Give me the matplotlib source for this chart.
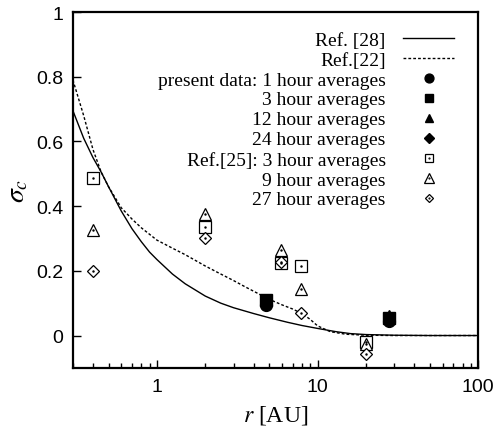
import numpy as np
import matplotlib
matplotlib.use('Agg')
import matplotlib.pyplot as plt
from matplotlib.legend_handler import HandlerTuple

# model curves
r_ref28 = [0.3, 0.35, 0.4, 0.45, 0.5, 0.6, 0.7, 0.8, 0.9, 1.0, 1.25, 1.5, 2, 2.5, 3, 4, 5,
           6.5, 8, 10, 13, 16, 20, 30, 50, 100]
sig_ref28 = [0.695, 0.61, 0.55, 0.505, 0.46, 0.385, 0.33, 0.29, 0.258, 0.235, 0.19, 0.16,
             0.122, 0.1, 0.086, 0.068, 0.055, 0.041, 0.031, 0.022, 0.012, 0.006, 0.003,
             0.001, 0, 0]

r_ref22 = [0.3, 0.35, 0.4, 0.45, 0.5, 0.6, 0.7, 0.8, 1.0, 1.25, 1.5, 2, 2.5, 3, 3.5, 4, 5,
           6, 7, 8, 9, 10, 12, 15, 20, 30, 100]
sig_ref22 = [0.79, 0.68, 0.575, 0.505, 0.46, 0.395, 0.36, 0.333, 0.295, 0.27, 0.25, 0.215,
             0.19, 0.17, 0.152, 0.137, 0.112, 0.095, 0.082, 0.068, 0.05, 0.03, 0.012,
             0.004, 0.001, 0, 0]

# present data
r_present = [4.8, 28]
present_1h = [0.095, 0.045]
present_3h = [0.11, 0.055]
present_12h = [0.11, 0.06]
present_24h = [0.10, 0.05]

# Ref.[25]
r_ref25 = [0.4, 2, 5.9, 7.9, 20]
ref25_3h = [0.486, 0.337, 0.224, 0.215, -0.02]
ref25_9h = [0.326, 0.375, 0.264, 0.144, -0.025]
ref25_27h = [0.20, 0.30, 0.228, 0.07, -0.058]

plt.rcParams['mathtext.fontset'] = 'stix'

fig = plt.figure(figsize=(4.96, 4.35), dpi=100)
ax = fig.add_axes([0.147, 0.152, 0.817, 0.818])

l28, = ax.plot(r_ref28, sig_ref28, color='black', lw=1.0, label='Ref. [28]')
l22, = ax.plot(r_ref22, sig_ref22, color='black', lw=1.0, linestyle=(0, (2, 1.5)), label='Ref.[22]')

ms = 8.5
p1, = ax.plot(r_present, present_1h, 'o', color='black', ms=ms, ls='none')
p2, = ax.plot(r_present, present_3h, 's', color='black', ms=ms - 0.5, ls='none')
p3, = ax.plot(r_present, present_12h, '^', color='black', ms=ms, ls='none')
p4, = ax.plot(r_present, present_24h, 'D', color='black', ms=ms - 2, ls='none')

opts = dict(mfc='white', mec='black', mew=0.9, ls='none')
q1, = ax.plot(r_ref25, ref25_3h, 's', ms=8, **opts)
q2, = ax.plot(r_ref25, ref25_9h, '^', ms=9, **opts)
q3, = ax.plot(r_ref25, ref25_27h, 'D', ms=6, **opts)
d1, = ax.plot(r_ref25, ref25_3h, '.', color='black', ms=1.5, ls='none')
d2, = ax.plot(r_ref25, ref25_9h, '.', color='black', ms=1.5, ls='none')
d3, = ax.plot(r_ref25, ref25_27h, '.', color='black', ms=1.5, ls='none')

ax.set_xscale('log')
ax.set_xlim(0.3, 100)
ax.set_ylim(-0.1, 1.0)
ax.set_xticks([1, 10, 100])
ax.set_xticklabels(['1', '10', '100'])
ax.set_yticks([0, 0.2, 0.4, 0.6, 0.8, 1.0])
ax.set_yticklabels(['0', '0.2', '0.4', '0.6', '0.8', '1'])
ax.tick_params(which='both', direction='in', labelsize=14, top=False, right=False)
ax.tick_params(which='major', length=6, width=1, pad=7)
ax.tick_params(which='minor', length=3.5, width=1)
for lbl in ax.get_xticklabels() + ax.get_yticklabels():
    lbl.set_family('Liberation Sans')
for s in ax.spines.values():
    s.set_linewidth(1.6)

ax.set_xlabel('$r$ [AU]', fontsize=17, family='Liberation Serif', labelpad=6)
ax.set_ylabel(r'$\sigma_c$', fontsize=20, labelpad=4)

handles = [l28, l22, p1, p2, p3, p4, (q1, d1), (q2, d2), (q3, d3)]
labels = ['Ref. [28]', 'Ref.[22]', 'present data: 1 hour averages', '3 hour averages',
          '12 hour averages', '24 hour averages', 'Ref.[25]: 3 hour averages',
          '9 hour averages', '27 hour averages']
leg = ax.legend(handles, labels, loc='upper right', bbox_to_anchor=(1, 1.015),
                markerfirst=False, frameon=False,
                prop={'family': 'Liberation Serif', 'size': 14}, handlelength=2.6,
                labelspacing=0.12, handletextpad=0.9, borderaxespad=0.85,
                markerscale=0.75,
                handler_map={tuple: HandlerTuple(ndivide=1, pad=0)}, numpoints=1)

fig.savefig('out.png', dpi=100)
